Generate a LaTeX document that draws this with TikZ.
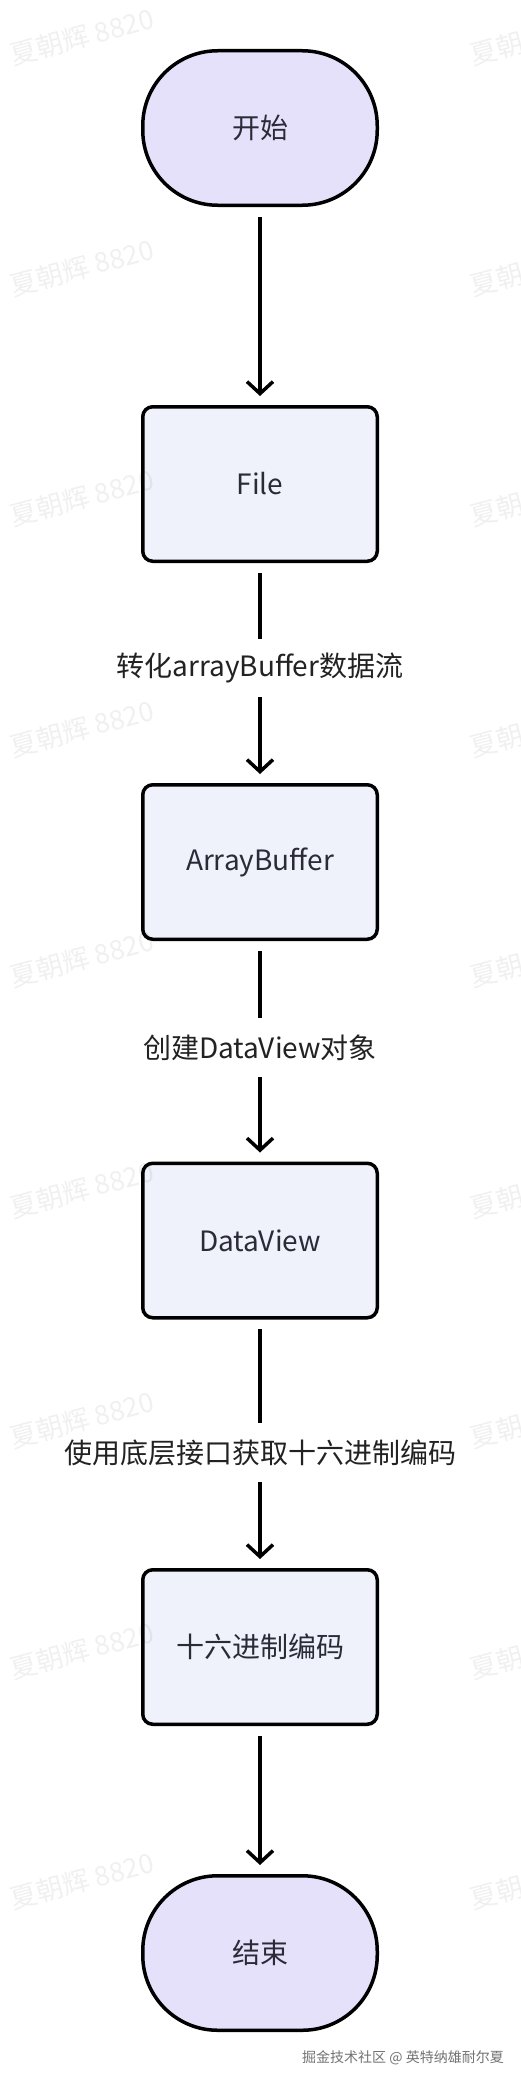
\documentclass[tikz,border=0pt]{standalone}
\usepackage{fontspec}
\setmainfont{Noto Sans CJK SC}
\usetikzlibrary{arrows.meta}
\definecolor{termfill}{HTML}{E6E1FA}
\definecolor{procfill}{HTML}{EFF2FB}
\definecolor{nodetext}{HTML}{2B2B38}
\definecolor{lbltext}{HTML}{222222}
\tikzset{
  term/.style={draw=black, line width=3.5pt, fill=termfill, rounded corners=75pt,
    minimum width=234.5pt, minimum height=154.5pt, inner sep=0pt,
    font=\fontsize{28}{32}\selectfont, text=nodetext},
  proc/.style={draw=black, line width=3.5pt, fill=procfill, rounded corners=10pt,
    minimum width=234.5pt, minimum height=154.5pt, inner sep=0pt,
    font=\fontsize{28}{32}\selectfont, text=nodetext},
  lbl/.style={inner xsep=4pt, inner ysep=0pt, minimum height=58pt,
    font=\fontsize{28}{32}\selectfont, text=lbltext},
  flow/.style={line width=3.5pt, -{Straight Barb[length=12pt,width=26pt,line width=3.5pt]},
    shorten >=9pt, shorten <=9.75pt},
  flowin/.style={line width=3.5pt, -{Straight Barb[length=12pt,width=26pt,line width=3.5pt]},
    shorten >=9pt},
  seg/.style={line width=3.5pt, shorten <=9.75pt},
  wmark/.style={font=\fontsize{27}{30}\selectfont, text=black, text opacity=0.06,
    rotate=15, inner sep=0pt},
  footer/.style={font=\fontsize{14}{16}\selectfont, text=black!55, inner sep=0pt}
}
\begin{document}
\begin{tikzpicture}[x=1pt,y=1pt]
\useasboundingbox (0,0) rectangle (520,-2082);
\fill[white] (0,0) rectangle (520,-2082);

\node[term] (start) at (260,-128) {开始};
\node[proc] (file) at (260,-484) {File};
\node[lbl]  (l1) at (260,-668) {转化arrayBuffer数据流};
\node[proc] (ab) at (260,-862) {ArrayBuffer};
\node[lbl]  (l2) at (260,-1047.5) {创建DataView对象};
\node[proc] (dv) at (260,-1240.5) {DataView};
\node[lbl]  (l3) at (260,-1452.5) {使用底层接口获取十六进制编码};
\node[proc] (hex) at (260,-1647) {十六进制编码};
\node[term] (end) at (260,-1953) {结束};

\draw[flow] (start) -- (file);
\draw[seg] (file) -- (l1);
\draw[flowin] (l1) -- (ab);
\draw[seg] (ab) -- (l2);
\draw[flowin] (l2) -- (dv);
\draw[seg] (dv) -- (l3);
\draw[flowin] (l3) -- (hex);
\draw[flow] (hex) -- (end);

\begin{scope}
\clip (0,0) rectangle (520,-2082);
\foreach \k in {0,...,9}{
  \node[wmark] (wl\k) at (82,{-37-230.5*\k}) {夏朝辉 8820};
  \node[wmark] (wr\k) at (542,{-37-230.5*\k}) {夏朝辉 8820};
}
\end{scope}

\node[footer] (foot) at (403,-2058) {掘金技术社区 @ 英特纳雄耐尔夏};
\end{tikzpicture}
\end{document}
